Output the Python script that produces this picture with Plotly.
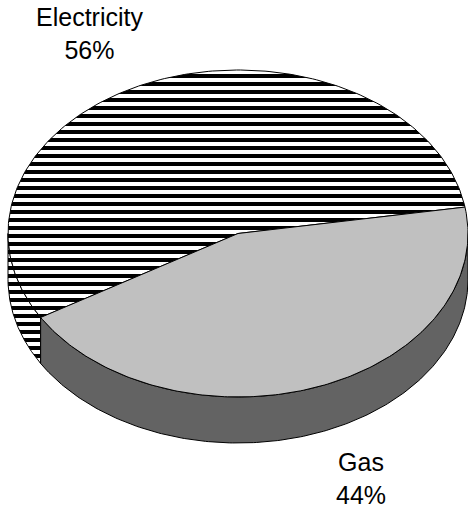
import numpy as np
import plotly.graph_objects as go

# Share of energy use by fuel
categories = ["Electricity", "Gas"]
shares = [56, 44]

# Pie drawing parameters (pixel space of the 468x508 canvas)
W, H = 468, 508
cx, cy = 238.0, 233.5      # centre of the top face
rx, ry = 230.0, 163.5      # radii of the tilted top face
depth = 46.0               # thickness of the pie
start_deg = 9.3            # where the Gas slice begins (counter-clockwise from 3 o'clock)

styles = {
    "Electricity": dict(top=dict(pattern=True), side=dict(pattern=True)),
    "Gas": dict(top=dict(pattern=False, color="#c0c0c0"),
                side=dict(pattern=False, color="#636363")),
}


def arc(t0, t1, dy=0.0, n=200):
    t = np.radians(np.linspace(t0, t1, n))
    return cx + rx * np.cos(t), cy - ry * np.sin(t) + dy


def fill_kwargs(style):
    if style["pattern"]:
        return dict(fillcolor="white",
                    fillpattern=dict(shape="-", size=8, solidity=0.5,
                                     fgcolor="black", bgcolor="white",
                                     fgopacity=1, fillmode="replace"))
    return dict(fillcolor=style["color"])


# Angular extent of each slice: Gas runs clockwise from start, Electricity counter-clockwise
total = sum(shares)
spans = {
    "Gas": (start_deg - 360.0 * shares[1] / total, start_deg),
    "Electricity": (start_deg, start_deg + 360.0 * shares[0] / total),
}

fig = go.Figure()

# Side walls: only the front half (angles 180..360) is visible
for name in categories:
    a0, a1 = spans[name]
    if name == "Gas":
        a0, a1 = a0 + 360.0, a1 + 360.0
    s0, s1 = max(a0, 180.0), min(a1, 360.0)
    if s1 <= s0:
        continue
    xt, yt = arc(s0, s1)
    xb, yb = arc(s0, s1, dy=depth)
    xs = np.concatenate([xt, xb[::-1], xt[:1]])
    ys = np.concatenate([yt, yb[::-1], yt[:1]])
    fig.add_trace(go.Scatter(x=xs, y=ys, mode="lines", fill="toself",
                             line=dict(color="black", width=1),
                             hoverinfo="skip", showlegend=False,
                             **fill_kwargs(styles[name]["side"])))

# Top faces
for name in categories:
    a0, a1 = spans[name]
    xa, ya = arc(a0, a1)
    xs = np.concatenate([[cx], xa, [cx]])
    ys = np.concatenate([[cy], ya, [cy]])
    fig.add_trace(go.Scatter(x=xs, y=ys, mode="lines", fill="toself",
                             line=dict(color="black", width=1),
                             hoverinfo="skip", showlegend=False,
                             **fill_kwargs(styles[name]["top"])))

# Category labels with percentages
label_pos = {"Electricity": (89, 33), "Gas": (361, 478)}
for name, val in zip(categories, shares):
    lx, ly = label_pos[name]
    fig.add_annotation(x=lx, y=ly, xref="x", yref="y",
                       text=f"{name}<br>{val}%", showarrow=False,
                       xanchor="center", yanchor="middle",
                       font=dict(family="Arial, Liberation Sans, sans-serif",
                                 size=25, color="black"))

fig.update_xaxes(range=[0, W], visible=False, fixedrange=True)
fig.update_yaxes(range=[H, 0], visible=False, fixedrange=True)
fig.update_layout(width=W, height=H, margin=dict(l=0, r=0, t=0, b=0),
                  paper_bgcolor="white", plot_bgcolor="white",
                  showlegend=False)

fig.write_html("out.html")
